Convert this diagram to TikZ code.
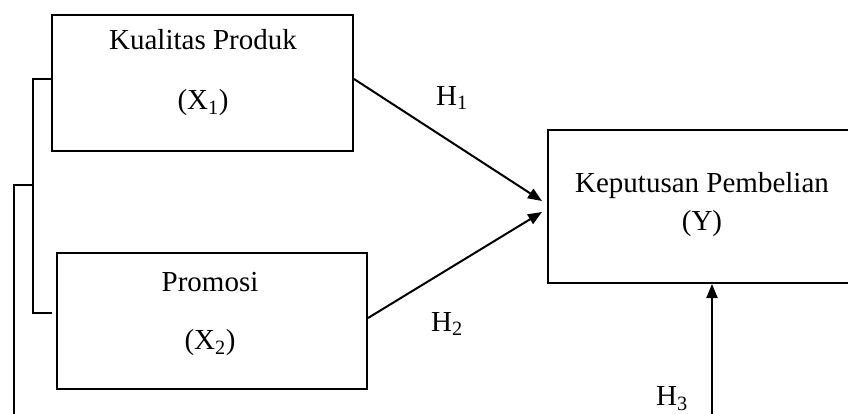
\documentclass[tikz,border=0pt]{standalone}
\usepackage{fontspec}
\setmainfont{Liberation Serif}
\usetikzlibrary{arrows.meta}
\begin{document}
\begin{tikzpicture}[x=1pt,y=-1pt,
  box/.style={draw=black,line width=2pt,rectangle,inner sep=0pt},
  lbl/.style={inner sep=0pt,font=\fontsize{29}{34}\selectfont},
  conn/.style={draw=black,line width=2pt},
  arr/.style={conn,-{Triangle[length=14pt,width=11pt]}}]
\useasboundingbox (0,0) rectangle (848,414);
\clip (0,0) rectangle (848,414);
% boxes
\node[box,minimum width=301pt,minimum height=136pt] (b1) at (202.5,83) {};
\node[box,minimum width=310pt,minimum height=136pt] (b2) at (212,321) {};
\node[box,minimum width=308pt,minimum height=153pt] (y) at (702,206.5) {};
% texts
\node[lbl] (t1a) at (203,40) {Kualitas Produk};
\node[lbl] (t1b) at (203,103) {(X\textsubscript{1})};
\node[lbl] (t2a) at (210,282) {Promosi};
\node[lbl] (t2b) at (210,343) {(X\textsubscript{2})};
\node[lbl] (tya) at (702,186) {Keputusan Pembelian};
\node[lbl] (tyb) at (702,224) {(Y)};
\node[lbl] (h1) at (452,98) {H\textsubscript{1}};
\node[lbl] (h2) at (447,324) {H\textsubscript{2}};
\node[lbl] (h3) at (672,399) {H\textsubscript{3}};
% arrows
\draw[arr] ([yshift=4pt]b1.east) -- ([xshift=-5pt,yshift=5.5pt]y.west);
\draw[arr] ([yshift=3pt]b2.east) -- ([xshift=-5pt,yshift=-5.5pt]y.west);
\coordinate (h3start) at (712,425);
\draw[arr] (h3start) -- ([xshift=10pt]y.south);
% bracket
\coordinate (bv) at (34,185);
\draw[conn] ([yshift=4pt]b1.west) -- ++(-18,0) |- ([xshift=-4pt,yshift=8pt]b2.west);
\draw[conn] (bv) -- ++(-20,0) -- ++(0,245);
\end{tikzpicture}
\end{document}
